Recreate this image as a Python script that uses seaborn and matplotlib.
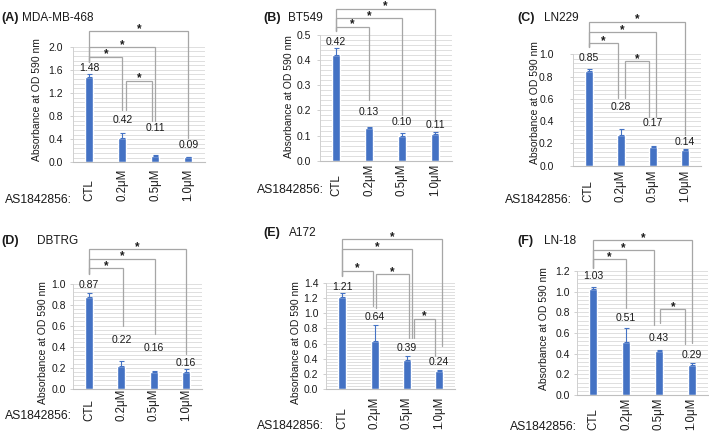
import numpy as np
import pandas as pd
import seaborn as sns
import matplotlib.pyplot as plt
from matplotlib.ticker import MultipleLocator, StrMethodFormatter

# ---- data ----
doses = ['CTL', '0.2μM', '0.5μM', '1.0μM']
panel_tags = ['(A)', '(B)', '(C)', '(D)', '(E)', '(F)']
cell_lines = ['MDA-MB-468', 'BT549', 'LN229', 'DBTRG', 'A172', 'LN-18']

mda_mean = [1.48, 0.42, 0.11, 0.09]
mda_err = [0.04, 0.09, 0.01, 0.01]
bt549_mean = [0.42, 0.13, 0.10, 0.106]
bt549_err = [0.03, 0.006, 0.01, 0.01]
ln229_mean = [0.85, 0.28, 0.17, 0.14]
ln229_err = [0.02, 0.05, 0.01, 0.01]
dbtrg_mean = [0.87, 0.22, 0.16, 0.16]
dbtrg_err = [0.04, 0.045, 0.01, 0.03]
a172_mean = [1.21, 0.64, 0.39, 0.24]
a172_err = [0.06, 0.20, 0.05, 0.01]
ln18_mean = [1.03, 0.51, 0.43, 0.29]
ln18_err = [0.02, 0.14, 0.01, 0.02]

# pairs marked with * (bar index i, bar index j)
mda_sig = [(0, 3), (0, 2), (0, 1), (1, 2)]
bt549_sig = [(0, 3), (0, 2), (0, 1)]
ln229_sig = [(0, 3), (0, 2), (0, 1), (1, 2)]
dbtrg_sig = [(0, 3), (0, 2), (0, 1)]
a172_sig = [(0, 3), (0, 2), (0, 1), (1, 2), (2, 3)]
ln18_sig = [(0, 3), (0, 2), (0, 1), (2, 3)]

means = [mda_mean, bt549_mean, ln229_mean, dbtrg_mean, a172_mean, ln18_mean]
errs = [mda_err, bt549_err, ln229_err, dbtrg_err, a172_err, ln18_err]
sigs = [mda_sig, bt549_sig, ln229_sig, dbtrg_sig, a172_sig, ln18_sig]

# ---- layout (pixels on a 709x432 canvas) ----
# box = left, top, right, bottom of the plot area
# br = one entry per sig pair: bracket height, lower end at i, lower end at j, x shift i, x shift j
layout = [
    dict(box=(72.8, 46.7, 204.8, 162.3), ymax=2.0, step=0.4, gap=10,
         lab_y=[1.626, 0.732, 0.588, 0.30],
         br=[(2.27, 1.74, 0.415, 0, 0), (1.99, 1.74, 0.72, 0, 0),
             (1.83, 1.74, 0.905, 0, 0), (1.41, 0.905, 0.72, 0.12, -0.1)],
         title=(1, 18, 22), ylab=(37, 100), as_xy=(72, 200), xlab_bottom=201),
    dict(box=(319.5, 35, 451.5, 160.7), ymax=0.5, step=0.1, gap=8.5,
         lab_y=[0.473, 0.192, 0.153, 0.142],
         br=[(0.604, 0.514, 0.162, 0, 0), (0.566, 0.514, 0.182, 0, 0),
             (0.533, 0.514, 0.241, 0, 0)],
         title=(263, 18, 288), ylab=(289, 97), as_xy=(324, 190), xlab_bottom=196),
    dict(box=(572.6, 54.3, 701, 165.7), ymax=1.0, step=0.2, gap=19,
         lab_y=[0.964, 0.524, 0.38, 0.215],
         br=[(1.293, 1.068, 0.276, 0, 0), (1.197, 1.068, 0.44, 0, 0.1),
             (1.099, 1.068, 0.605, 0, -0.08), (0.94, 0.605, 0.44, 0.12, -0.12)],
         title=(517, 18, 544), ylab=(535, 103), as_xy=(572, 200), xlab_bottom=202),
    dict(box=(72.9, 283.5, 202, 388.8), ymax=1.0, step=0.2, gap=7,
         lab_y=[0.986, 0.463, 0.385, 0.248],
         br=[(1.325, 1.087, 0.328, 0, 0), (1.235, 1.087, 0.518, 0, 0.05),
             (1.144, 1.087, 0.596, 0, 0.05)],
         title=(1, 241, 37), ylab=(43, 343), as_xy=(72, 416), xlab_bottom=421),
    dict(box=(326.3, 282.7, 455, 389.3), ymax=1.4, step=0.2, gap=8,
         lab_y=[1.348, 0.954, 0.539, 0.363],
         br=[(1.97, 1.489, 0.57, 0, 0.09), (1.84, 1.489, 0.68, 0, 0.15),
             (1.556, 1.489, 1.095, 0, -0.05), (1.511, 1.07, 0.68, 0.05, 0.06),
             (0.928, 0.68, 0.437, 0.22, -0.13)],
         title=(263, 233, 289), ylab=(296, 343), as_xy=(324, 426), xlab_bottom=429),
    dict(box=(576.9, 271, 708, 395), ymax=1.2, step=0.2, gap=7,
         lab_y=[1.152, 0.748, 0.549, 0.384],
         br=[(1.50, 1.232, 0.506, 0, 0.02), (1.404, 1.232, 0.675, 0, -0.15),
             (1.314, 1.232, 0.845, 0, 0), (0.83, 0.70, 0.49, 0.05, -0.2)],
         title=(517, 241, 544), ylab=(544, 329), as_xy=(577, 427), xlab_bottom=430),
]

W, H = 709, 432
bar_color = '#4472C4'
text_color = '#1a1a1a'

sns.set_style('white')
plt.rcParams['font.family'] = ['Liberation Sans', 'DejaVu Sans']

fig = plt.figure(figsize=(W / 100, H / 100), dpi=100)

for k in range(6):
    lay = layout[k]
    l, t, r, b = lay['box']
    ax = fig.add_axes([l / W, 1 - b / H, (r - l) / W, (b - t) / H])
    df = pd.DataFrame({'dose': doses, 'value': means[k]})
    sns.barplot(data=df, x='dose', y='value', color=bar_color, saturation=1,
                width=0.25, errorbar=None, ax=ax)
    ax.errorbar(np.arange(4), means[k], yerr=[np.zeros(4), errs[k]], fmt='none',
                ecolor=bar_color, elinewidth=0.8, capsize=1.8, capthick=0.8)

    ax.set_xlim(-0.5, 3.5)
    ax.set_ylim(0, lay['ymax'])
    ax.yaxis.set_major_locator(MultipleLocator(lay['step']))
    ax.yaxis.set_minor_locator(MultipleLocator(lay['step'] / 5))
    ax.yaxis.set_major_formatter(StrMethodFormatter('{x:.1f}'))
    ax.yaxis.grid(True, which='both', color='#d9d9d9', lw=0.6)
    ax.set_axisbelow(True)
    for s in ['top', 'right']:
        ax.spines[s].set_visible(False)
    ax.spines['left'].set_color('#d0d0d0')
    ax.spines['left'].set_linewidth(0.7)
    ax.spines['bottom'].set_color('#bfbfbf')
    ax.spines['bottom'].set_linewidth(0.8)
    ax.tick_params(axis='y', which='major', left=True, length=2.5, width=0.6,
                   color='#c8c8c8', labelsize=7.5, labelcolor=text_color,
                   pad=lay['gap'] / 1.389 - 2.5)
    ax.tick_params(axis='y', which='minor', left=False)
    ax.tick_params(axis='x', bottom=False, labelbottom=False)
    ax.set_xlabel('')

    ylx, yly = lay['ylab']
    ax.set_ylabel('Absorbance at OD 590 nm', fontsize=7.5, color=text_color, va='center')
    ax.yaxis.set_label_coords((ylx - l) / (r - l), (b - yly) / (b - t))

    # value labels
    for i, v in enumerate(means[k]):
        ax.text(i, lay['lab_y'][i], f'{v:.2f}', ha='center', va='center',
                fontsize=7.5, color=text_color)

    # dose labels, rotated, aligned at their start
    y_ax = -(lay['xlab_bottom'] - b) / (b - t)
    for i, d in enumerate(doses):
        ax.text(i, y_ax, d, transform=ax.get_xaxis_transform(), rotation=90,
                ha='center', va='bottom', fontsize=8.3, color=text_color)

    # significance brackets
    for (i, j), (h, lo_i, lo_j, dx_i, dx_j) in zip(sigs[k], lay['br']):
        xi, xj = i + dx_i, j + dx_j
        ax.plot([xi, xi, xj, xj], [lo_i, h, h, lo_j], color='#a6a6a6', lw=0.9,
                clip_on=False, solid_joinstyle='miter')
        ax.annotate('*', xy=((xi + xj) / 2, h), xytext=(0, 1.6),
                    textcoords='offset points', ha='center', va='center',
                    fontsize=8.5, fontweight='bold', color=text_color,
                    annotation_clip=False)

    # panel titles
    tx, ty, nx = lay['title']
    fig.text(tx / W, 1 - ty / H, panel_tags[k], fontsize=9, fontweight='bold',
             ha='left', va='center', color=text_color)
    fig.text(nx / W, 1 - ty / H, cell_lines[k], fontsize=8.5,
             ha='left', va='center', color=text_color)

    ax_x, ax_y = lay['as_xy']
    fig.text(ax_x / W, 1 - ax_y / H, 'AS1842856:', fontsize=8.8,
             ha='right', va='center', color=text_color)

fig.savefig('out.png', dpi=100)
